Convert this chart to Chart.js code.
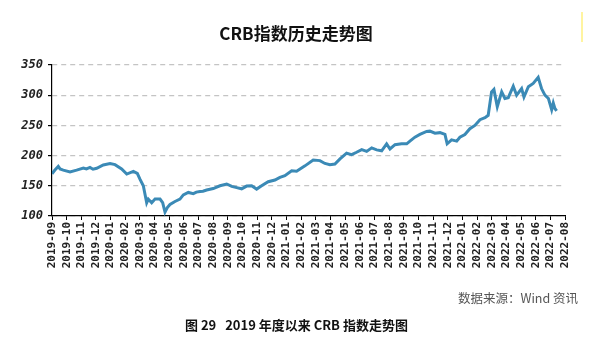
<!DOCTYPE html>
<html>
<head>
<meta charset="utf-8">
<script src="https://cdn.jsdelivr.net/npm/chart.js@4"></script>
<style>
	html, body { margin: 0; padding: 0; background: #fff; }
	#wrap { position: relative; width: 600px; height: 340px; overflow: hidden; }
	#crbChart { position: absolute; left: 0; top: 0; }
	.txt { position: absolute; white-space: nowrap; font-family: "Noto Sans CJK SC", "DejaVu Sans", sans-serif; }
	#title { left: 0; width: 592px; top: 20px; text-align: center; font-size: 17px; font-weight: bold; color: #111; }
	#source { right: 22px; top: 288px; font-size: 12.5px; color: #555; }
	#caption { left: 185px; top: 315px; font-size: 13px; font-weight: bold; color: #111; }
	#mark { position: absolute; left: 581px; top: 12px; width: 2px; height: 30px; background: rgba(255, 240, 120, 0.7); }
</style>
</head>
<body>
<div id="wrap">
	<canvas id="crbChart" width="600" height="340"></canvas>
	<div class="txt" id="title">CRB指数历史走势图</div>
	<div class="txt" id="source">数据来源：Wind 资讯</div>
	<div class="txt" id="caption">图 29&nbsp;&nbsp;&nbsp;2019 年度以来 CRB 指数走势图</div>
	<div id="mark"></div>
</div>
<script>
// month tick labels, one per month starting 2019-09
const monthLabels = [
	'2019-09', '2019-10', '2019-11', '2019-12',
	'2020-01', '2020-02', '2020-03', '2020-04', '2020-05', '2020-06',
	'2020-07', '2020-08', '2020-09', '2020-10', '2020-11', '2020-12',
	'2021-01', '2021-02', '2021-03', '2021-04', '2021-05', '2021-06',
	'2021-07', '2021-08', '2021-09', '2021-10', '2021-11', '2021-12',
	'2022-01', '2022-02', '2022-03', '2022-04', '2022-05', '2022-06',
	'2022-07', '2022-08',
];

// position in months since 2019-09
const monthPos = [
	0.00, 0.20, 0.43, 0.55, 0.77, 1.23, 1.68, 2.14, 2.35, 2.59,
	2.80, 3.05, 3.50, 3.96, 4.30, 4.75, 5.10, 5.55, 5.82, 6.00,
	6.23, 6.46, 6.57, 6.80, 7.03, 7.37, 7.55, 7.71, 7.87, 8.05,
	8.39, 8.73, 8.96, 9.30, 9.64, 9.85, 10.10, 10.30, 10.55, 11.00,
	11.20, 11.46, 11.92, 12.26, 12.60, 12.94, 13.28, 13.62, 13.96, 14.30,
	14.75, 15.21, 15.55, 15.89, 16.35, 16.69, 17.26, 17.82, 18.28, 18.62,
	18.96, 19.30, 19.65, 20.10, 20.44, 20.78, 21.13, 21.47, 21.81, 22.15,
	22.49, 22.83, 23.06, 23.40, 23.85, 24.20, 24.42, 24.76, 25.10, 25.56,
	25.78, 26.13, 26.47, 26.81, 26.96, 27.26, 27.61, 27.83, 28.17, 28.51,
	28.85, 29.20, 29.54, 29.76, 29.99, 30.15, 30.38, 30.68, 30.90, 31.13,
	31.47, 31.70, 32.04, 32.20, 32.50, 32.83, 33.17, 33.40, 33.63, 33.87,
	34.09, 34.20, 34.31, 34.43,
];

// CRB index level
const crbValues = [
	170, 176, 182, 178, 176, 173, 176, 179.5, 178, 180.5,
	177.5, 179, 184.5, 187, 185, 178, 169.5, 174, 170.5, 161,
	150, 122, 128, 122, 128, 128, 122, 106.5, 114, 119,
	124, 128, 135, 139, 137, 139.5, 140.5, 141, 143, 145.5,
	147.5, 150, 153, 149, 147, 145, 149.5, 150, 144.5, 150,
	156.7, 159.5, 164, 166.7, 175, 174, 183, 192.8, 191.7, 187,
	185, 186, 194.5, 204, 201.7, 205.5, 210, 207, 212.8, 209.5,
	208, 219.5, 211, 218, 219.5, 219.5, 224, 230.5, 235, 240,
	240.5, 237, 238, 235, 219.5, 226, 224, 230.5, 235, 244.5,
	250, 259.5, 262.8, 266.7, 305.5, 309.5, 281, 305.5, 294.5, 296,
	315, 300, 311, 297, 314, 319.5, 329.5, 311, 300, 294.5,
	276, 287, 278, 274,
];

const yTicks = [100, 150, 200, 250, 300, 350];

const points = monthPos.map((m, i) => ({ x: m, y: crbValues[i] }));

const ctx = document.getElementById('crbChart').getContext('2d');
const crbChart = new Chart(ctx, {
	type: 'line',
	data: {
		datasets: [{
			label: 'CRB',
			data: points,
			borderColor: '#3b8ab6',
			borderWidth: 3,
			pointRadius: 0,
			tension: 0,
			fill: false,
		}],
	},
	options: {
		responsive: false,
		animation: false,
		layout: {
			padding: { top: 65, right: 35, left: 0, bottom: 0 },
		},
		plugins: {
			legend: { display: false },
			tooltip: { enabled: false },
		},
		scales: {
			x: {
				type: 'linear',
				min: 0,
				max: monthLabels.length - 1,
				afterFit: function(scale) { scale.height = 124; },
				afterBuildTicks: function(scale) {
					scale.ticks = monthLabels.map((l, i) => ({ value: i }));
				},
				ticks: {
					autoSkip: false,
					minRotation: 90,
					maxRotation: 90,
					padding: 2,
					color: '#222',
					font: { family: 'DejaVu Sans Mono', size: 11, weight: 'bold' },
					callback: function(value) { return monthLabels[value]; },
				},
				grid: {
					drawOnChartArea: false,
					tickLength: 4,
					tickColor: '#000',
				},
				border: { color: '#000', width: 1.2 },
			},
			y: {
				min: 100,
				max: 350,
				afterFit: function(scale) { scale.width = 52; },
				afterBuildTicks: function(scale) {
					scale.ticks = yTicks.map(v => ({ value: v }));
				},
				ticks: {
					padding: 5,
					color: '#222',
					font: { family: 'DejaVu Sans Mono', size: 12, weight: 'bold', style: 'italic' },
				},
				grid: {
					color: '#c4c4c4',
					lineWidth: 1.2,
					tickLength: 4,
					tickColor: '#000',
				},
				border: { color: '#000', width: 1.2, dash: [5, 4] },
			},
		},
	},
});
</script>
</body>
</html>
